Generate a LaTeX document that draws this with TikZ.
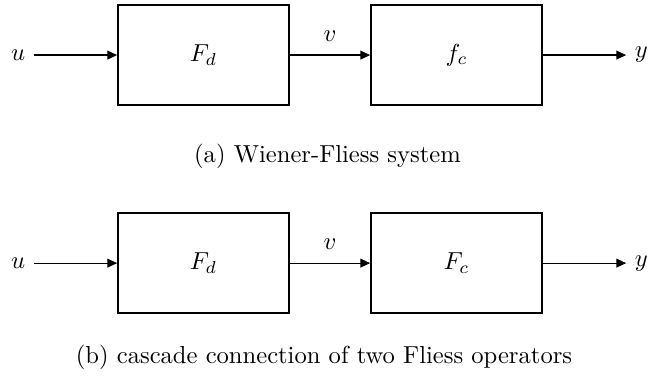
\documentclass[tikz,border=0pt]{standalone}
\usetikzlibrary{positioning,arrows.meta}

\begin{document}
\begin{tikzpicture}[
  blok/.style={rectangle, draw, thick, minimum width=2.44cm, minimum height=1.43cm},
  signal/.style={-{Triangle[length=4pt,width=3.6pt]}, line width=0.5pt},
  natpis/.style={font=\normalsize}
]
\useasboundingbox (0,0) rectangle (9.26,5.36);

% (a) Wiener-Fliess
\node[blok] (a1) at (2.908,4.573) {$F_d$};
\node[blok] (a2) at (6.524,4.573) {$f_c$};
\node[left=1.19cm of a1] (ua) {$u$};
\node[right=1.19cm of a2] (ya) {$y$};
\draw[signal] (ua) -- (a1);
\draw[signal] (a1) -- node[above=2pt] {$v$} (a2);
\draw[signal] (a2) -- (ya);
\node[natpis] (capa) at (4.68,3.13) {(a) Wiener-Fliess system};

% (b) kaskada
\node[blok] (b1) at (2.908,1.600) {$F_d$};
\node[blok] (b2) at (6.524,1.600) {$F_c$};
\node[left=1.19cm of b1] (ub) {$u$};
\node[right=1.19cm of b2] (yb) {$y$};
\draw[signal] (ub) -- (b1);
\draw[signal] (b1) -- node[above=2pt] {$v$} (b2);
\draw[signal] (b2) -- (yb);
\node[natpis] (capb) at (4.63,0.25) {(b) cascade connection of two Fliess operators};
\end{tikzpicture}
\end{document}
